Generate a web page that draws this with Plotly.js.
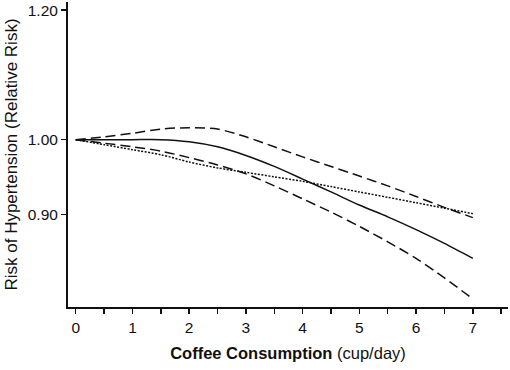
<!DOCTYPE html>
<html>
<head>
<meta charset="utf-8">
<script src="https://cdn.plot.ly/plotly-3.0.1.min.js"></script>
<style>html,body{margin:0;padding:0;background:#fff;}#chart{width:510px;height:370px;}</style>
</head>
<body>
<div id="chart"></div>
<script>
var cups = [0, 0.5, 1, 1.5, 2, 2.5, 3, 3.5, 4, 4.5, 5, 5.5, 6, 6.5, 7];
var rrEstimate = [1.0, 1.0, 1.0, 1.0, 0.997, 0.99, 0.978, 0.963, 0.946, 0.929, 0.912, 0.897, 0.881, 0.864, 0.846];
var rrUpper = [1.0, 1.004, 1.009, 1.015, 1.017, 1.015, 1.004, 0.99, 0.976, 0.963, 0.95, 0.937, 0.923, 0.909, 0.896];
var rrLower = [1.0, 0.995, 0.99, 0.984, 0.975, 0.965, 0.953, 0.937, 0.92, 0.903, 0.885, 0.866, 0.846, 0.823, 0.799];
var rrLinear = [1.0, 0.993, 0.986, 0.979, 0.969, 0.961, 0.955, 0.949, 0.943, 0.936, 0.929, 0.922, 0.915, 0.908, 0.901];
var xTicks = [0, 1, 2, 3, 4, 5, 6, 7];
var yTickVals = [0.9, 1.0, 1.2];
var yTickText = ['0.90', '1.00', '1.20'];

function tr(y, dash) {
  return {x: cups, y: y, mode: 'lines', type: 'scatter',
    line: {color: '#111', width: 1.5, dash: dash, shape: 'spline', smoothing: 0.8},
    hoverinfo: 'skip', showlegend: false};
}
var data = [
  tr(rrUpper, '10px,5px'),
  tr(rrLower, '10px,5px'),
  tr(rrLinear, '2px,1.5px'),
  tr(rrEstimate, 'solid')
];
var layout = {
  width: 510, height: 370,
  margin: {l: 68, r: 2, t: 2, b: 63},
  paper_bgcolor: '#fff', plot_bgcolor: '#fff',
  font: {family: 'Arial, Liberation Sans, sans-serif', color: '#111', size: 14},
  xaxis: {
    range: [-0.136, 7.62], tickvals: xTicks, ticktext: xTicks.map(String),
    showgrid: false, zeroline: false, showline: true, linecolor: '#111', linewidth: 2,
    ticks: 'outside', ticklen: 5, tickwidth: 1.5, tickcolor: '#111',
    minor: {tickvals: [0.5,1.5,2.5,3.5,4.5,5.5,6.5,7.5], ticks: 'outside', ticklen: 5, tickwidth: 1.5, tickcolor: '#111'},
    tickfont: {size: 15.5},
    title: {text: '<b>Coffee Consumption</b> (cup/day)', font: {size: 16.5}, standoff: 13},
    automargin: false, fixedrange: true
  },
  yaxis: {
    type: 'log', range: [Math.log10(0.79), Math.log10(1.214)],
    tickvals: yTickVals, ticktext: yTickText,
    showgrid: false, zeroline: false, showline: true, linecolor: '#111', linewidth: 2,
    ticks: 'outside', ticklen: 5, tickwidth: 1.5, tickcolor: '#111',
    tickfont: {size: 15.5},
    title: {text: 'Risk of Hypertension (Relative Risk)', font: {size: 17}, standoff: 6},
    automargin: false, fixedrange: true
  }
};
Plotly.newPlot('chart', data, layout, {displayModeBar: false, staticPlot: true});
</script>
</body>
</html>
